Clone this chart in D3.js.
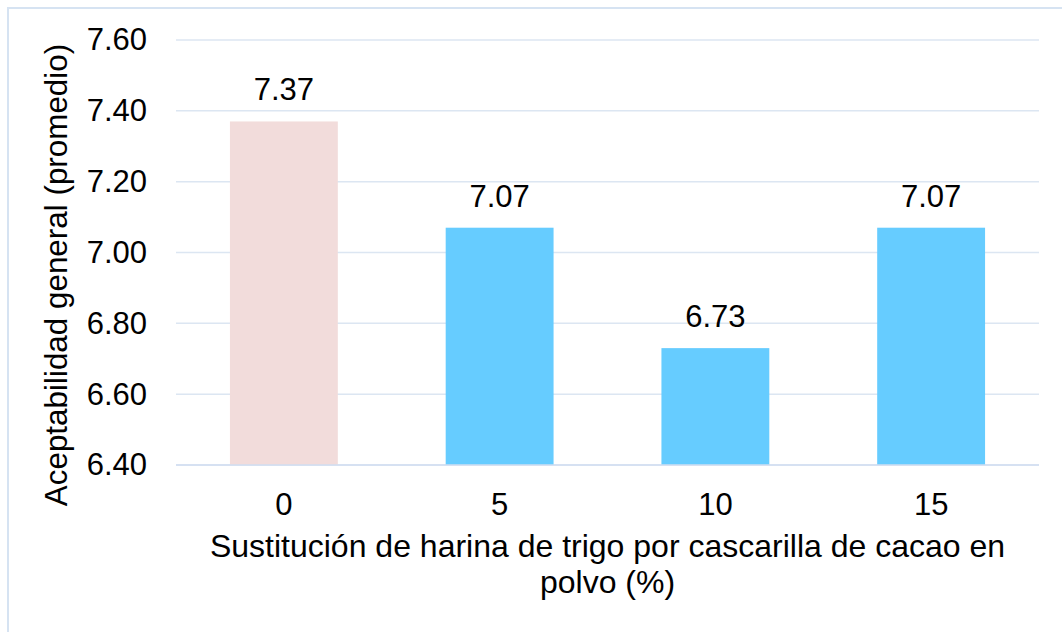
<!DOCTYPE html>
<html>
<head>
<meta charset="utf-8">
<script src="https://cdn.jsdelivr.net/npm/d3@7"></script>
<style>
  html, body { margin: 0; padding: 0; background: #fff; }
  svg { display: block; }
  text { font-family: "Liberation Sans", Arial, sans-serif; fill: #000; }
</style>
</head>
<body>
<svg id="chart" width="1062" height="632"></svg>
<script>
const categories = ["0", "5", "10", "15"];
const values = [7.37, 7.07, 6.73, 7.07];
const barColors = ["#F2DCDB", "#66CCFF", "#66CCFF", "#66CCFF"];
const yTicks = [6.40, 6.60, 6.80, 7.00, 7.20, 7.40, 7.60];
const yTitle = "Aceptabilidad general (promedio)";
const xTitleLines = ["Sustitución de harina de trigo por cascarilla de cacao en", "polvo (%)"];

const svg = d3.select("#chart");
const W = 1062, H = 632;
const m = { left: 176, right: 1039, top: 40, bottom: 465 };
const fs = 31;

// frame
svg.append("rect")
  .attr("x", 8).attr("y", 8)
  .attr("width", W + 20).attr("height", H + 20)
  .attr("fill", "none").attr("stroke", "#D6E3F2").attr("stroke-width", 2);

const x = d3.scaleBand().domain(categories).range([m.left, m.right])
  .paddingInner(0.5).paddingOuter(0.25);
const y = d3.scaleLinear().domain([6.4, 7.6]).range([m.bottom, m.top]);

// gridlines
svg.append("g").selectAll("line").data(yTicks).join("line")
  .attr("x1", m.left).attr("x2", m.right)
  .attr("y1", d => y(d)).attr("y2", d => y(d))
  .attr("stroke", "#DCE6F2").attr("stroke-width", 1.5);

// bars
svg.append("g").selectAll("rect").data(values).join("rect")
  .attr("x", (d, i) => x(categories[i]))
  .attr("width", x.bandwidth())
  .attr("y", d => y(d))
  .attr("height", d => y(6.4) - y(d))
  .attr("fill", (d, i) => barColors[i]);

// x axis line
svg.append("line")
  .attr("x1", m.left).attr("x2", m.right)
  .attr("y1", y(6.4)).attr("y2", y(6.4))
  .attr("stroke", "#D0DEF0").attr("stroke-width", 1.5);

// y axis labels
const yAxis = d3.axisLeft(y).tickValues(yTicks).tickFormat(d3.format(".2f")).tickSize(0).tickPadding(0);
const gy = svg.append("g").attr("transform", `translate(${147},0)`).call(yAxis);
gy.select(".domain").remove();
gy.selectAll("text").attr("font-size", fs).attr("dy", "0.32em")
  .style("font-family", '"Liberation Sans", Arial, sans-serif').attr("fill", "#000");

// x axis labels
const xAxis = d3.axisBottom(x).tickSize(0).tickPadding(0);
const gx = svg.append("g").attr("transform", `translate(0,${m.bottom})`).call(xAxis);
gx.select(".domain").remove();
gx.selectAll("text").attr("font-size", fs).attr("dy", null).attr("y", 50)
  .style("font-family", '"Liberation Sans", Arial, sans-serif').attr("fill", "#000");

// value labels
svg.append("g").selectAll("text").data(values).join("text")
  .attr("x", (d, i) => x(categories[i]) + x.bandwidth() / 2)
  .attr("y", d => y(d) - 21)
  .attr("text-anchor", "middle")
  .attr("font-size", fs)
  .text(d => d3.format(".2f")(d));

// y title
svg.append("text")
  .attr("transform", `translate(67,${275}) rotate(-90)`)
  .attr("text-anchor", "middle")
  .attr("font-size", 31.4)
  .text(yTitle);

// x title
const cx = (m.left + m.right) / 2;
svg.append("g").selectAll("text").data(xTitleLines).join("text")
  .attr("x", cx)
  .attr("y", (d, i) => 557 + i * 36)
  .attr("text-anchor", "middle")
  .attr("font-size", 32)
  .text(d => d);
</script>
</body>
</html>
